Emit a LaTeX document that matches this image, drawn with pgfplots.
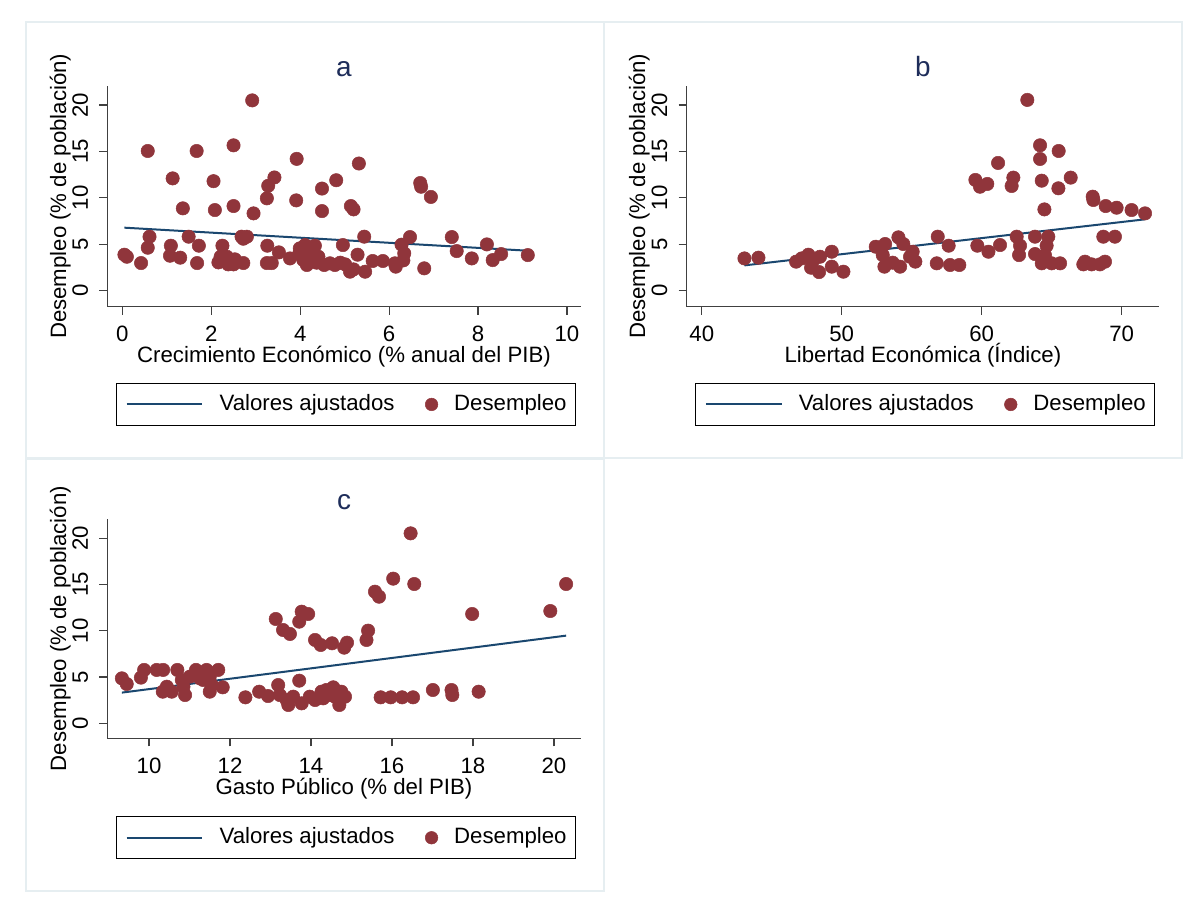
\documentclass[border=0pt]{standalone}
\usepackage{fontspec}
\setmainfont{Liberation Sans}
\usepackage{pgfplots}
\pgfplotsset{compat=1.18}

\definecolor{stnavy}{RGB}{26,71,111}
\definecolor{stmaroon}{RGB}{144,53,59}
\definecolor{sttitle}{RGB}{30,45,90}
\definecolor{stbox}{RGB}{230,238,241}

\pgfplotsset{
  stata/.style={
    scale only axis,
    anchor=south west,
    axis x line*=bottom, axis y line*=left,
    axis line style={-, line width=1.2bp, draw=black!75},
    tick align=outside, major tick length=8bp,
    tick style={line width=1.2bp, draw=black!75},
    font=\fontsize{22.3}{26}\selectfont,
    /pgf/number format/assume math mode=true,
    xticklabel style={anchor=base, yshift=-27bp},
    yticklabel style={xshift=-11.3bp, rotate=90, anchor=base},
    every axis x label/.style={at={(axis description cs:0.5,0)}, yshift=-56.3bp, anchor=base},
    every axis y label/.style={at={(axis description cs:0,0.5)}, xshift=-41.3bp, rotate=90, anchor=base},
    every axis title/.style={at={(axis description cs:0.5,1)}, yshift=9.3bp, anchor=base,
      font=\fontsize{28}{32}\selectfont, text=sttitle},
    ylabel={Desempleo (\% de población)},
    ytick={0,5,10,15,20},
    legend columns=2,
    legend cell align=left,
    legend style={anchor=north west, draw=black, line width=1.2bp,
      inner xsep=9bp, inner ysep=10.8bp, font=\fontsize{22.3}{26}\selectfont,
      nodes={inner sep=0pt, text height=16bp, text depth=4.7bp},
      /tikz/every odd column/.append style={column sep=16.3bp},
      /tikz/every even column/.append style={column sep=30.7bp}},
  },
  fitline/.style={stnavy, line width=2bp, no marks,
    legend image code/.code={\draw[##1] (0bp,0bp) -- (75.7bp,0bp);}},
  dots/.style={only marks, mark=*, mark size=6.7bp, stmaroon,
    mark options={fill=stmaroon, draw=stmaroon, line width=0.5bp},
    legend image code/.code={\draw[##1, mark size=6.3bp] plot coordinates {(6.3bp,0bp)};}},
}

\begin{document}
\begin{tikzpicture}
\useasboundingbox (0,0) rectangle (1199bp,907bp);
\fill[white] (0,0) rectangle (1199bp,907bp);
\draw[stbox, line width=2bp] (25.5bp,885bp) rectangle (603.5bp,449.3bp);
\draw[stbox, line width=2bp] (603.5bp,885bp) rectangle (1181.7bp,449.3bp);
\draw[stbox, line width=2bp] (25.5bp,447.5bp) rectangle (603.5bp,16bp);

% panel a
\begin{axis}[stata,
  at={(107.3bp,600.3bp)}, width=473.4bp, height=220.7bp,
  xmin=-0.34, xmax=10.31, ymin=-1.72, ymax=22.05,
  xtick={0,2,4,6,8,10},
  title={a},
  xlabel={Crecimiento Económico (\% anual del PIB)},
  legend style={at={(axis description cs:0.01838,-0.3444)}},
]
\addplot[fitline] coordinates {(0.045,6.79) (9.12,4.31)};
\addlegendentry{Valores ajustados}
\addplot[dots] coordinates {
(2.92,20.5)(0.57,15.05)(1.67,15.05)(2.50,15.66)(3.92,14.2)(5.32,13.7)
(1.13,12.1)(2.05,11.8)(3.42,12.2)(3.28,11.3)(4.49,11.0)(4.81,11.9)
(6.70,11.6)(6.72,11.2)(6.94,10.1)(3.25,9.95)(3.91,9.73)(1.36,8.87)
(2.08,8.69)(2.50,9.12)(2.95,8.33)(4.49,8.58)(5.14,9.12)(5.20,8.76)
(0.61,5.82)(0.57,4.63)(0.045,3.88)(0.10,3.66)(0.42,2.98)(1.09,4.85)
(1.07,3.77)(1.30,3.56)(1.49,5.82)(1.72,4.85)(1.68,2.98)(2.16,3.05)
(2.25,4.85)(2.21,3.66)(2.35,3.66)(2.38,2.84)(2.50,2.84)(2.53,3.38)
(2.72,2.98)(2.68,5.82)(2.80,5.82)(3.26,4.85)(3.25,2.98)(3.36,2.98)
(3.52,4.13)(3.77,3.48)(3.98,4.02)(4.11,4.92)(4.33,4.85)(4.07,3.30)
(4.15,2.77)(4.22,3.84)(4.41,3.66)(4.37,3.02)(4.54,2.77)(4.67,2.95)
(4.78,2.77)(4.90,3.02)(5.01,2.84)(4.96,4.92)(5.12,2.05)(5.20,2.30)
(5.29,3.88)(5.44,5.82)(5.46,2.05)(5.63,3.20)(5.86,3.20)(6.13,2.95)
(6.15,2.59)(6.28,4.96)(6.34,4.02)(6.32,3.27)(6.47,5.78)(6.79,2.41)
(7.41,5.78)(7.52,4.27)(7.86,3.48)(8.20,4.99)(8.33,3.30)(8.52,3.95)
(9.12,3.84)(3.99,4.56)(4.05,3.70)(4.25,3.20)(2.72,5.60)
};
\addlegendentry{Desempleo}
\end{axis}

% panel b
\begin{axis}[stata,
  at={(686.5bp,600.3bp)}, width=472.8bp, height=220.7bp,
  xmin=38.91, xmax=72.69, ymin=-1.72, ymax=22.05,
  xtick={40,50,60,70},
  title={b},
  xlabel={Libertad Económica (Índice)},
  legend style={at={(axis description cs:0.01840,-0.3444)}},
]
\addplot[fitline] coordinates {(43.05,2.73) (71.67,7.69)};
\addlegendentry{Valores ajustados}
\addplot[dots] coordinates {
(63.26,20.55)(64.17,15.66)(65.50,15.05)(64.17,14.19)(61.17,13.76)
(59.55,11.93)(59.88,11.20)(60.40,11.50)(62.26,12.18)(62.14,11.28)
(64.29,11.85)(65.48,11.03)(66.36,12.18)(64.48,8.76)(67.93,10.13)
(67.98,9.77)(68.86,9.12)(69.64,8.94)(70.71,8.69)(71.67,8.33)
(43.05,3.48)(44.05,3.56)(46.74,3.13)(47.14,3.48)(47.62,3.88)
(47.98,3.30)(47.81,2.48)(48.38,2.01)(48.45,3.66)(49.29,4.20)
(49.29,2.59)(50.12,2.05)(52.43,4.74)(53.10,5.03)(52.93,3.84)
(53.05,2.59)(53.64,3.02)(54.17,2.59)(54.05,5.75)(54.40,5.03)
(55.07,4.20)(54.88,3.66)(55.26,3.13)(56.86,5.82)(57.64,4.85)
(56.79,2.95)(57.74,2.77)(58.40,2.77)(59.69,4.85)(60.48,4.20)
(61.31,4.92)(62.50,5.82)(62.74,4.85)(62.67,3.84)(63.81,5.82)
(63.81,3.95)(64.76,5.82)(64.64,4.85)(64.52,3.84)(64.29,2.95)
(65.00,2.95)(65.60,2.95)(67.38,3.13)(67.26,2.84)(67.86,2.84)
(68.81,3.13)(68.69,5.82)(69.52,5.82)(68.45,2.84)
};
\addlegendentry{Desempleo}
\end{axis}

% panel c
\begin{axis}[stata,
  at={(107.3bp,168.7bp)}, width=473.4bp, height=219.3bp,
  xmin=8.97, xmax=20.66, ymin=-1.62, ymax=22.09,
  xtick={10,12,14,16,18,20},
  title={c},
  xlabel={Gasto Público (\% del PIB)},
  legend style={at={(axis description cs:0.01838,-0.3543)}},
]
\addplot[fitline] coordinates {(9.33,3.32) (20.30,9.48)};
\addlegendentry{Valores ajustados}
\addplot[dots] coordinates {
(16.46,20.54)(16.03,15.64)(16.55,15.06)(15.58,14.23)(15.68,13.69)
(17.98,11.82)(19.91,12.14)(20.30,15.06)(13.13,11.28)(13.77,12.07)
(13.93,11.82)(13.71,10.99)(13.31,10.09)(13.48,9.66)(14.10,9.01)
(14.24,8.47)(14.52,8.65)(14.82,8.18)(14.89,8.72)(15.41,10.02)
(15.37,9.01)
(9.33,4.86)(9.45,4.25)(9.80,4.94)(9.88,5.77)(10.19,5.77)(10.35,5.77)
(10.34,3.42)(10.44,3.96)(10.56,3.42)(10.70,5.77)(10.81,4.68)(10.89,3.06)
(10.85,3.96)(11.16,5.77)(11.26,4.86)(11.42,5.77)(11.50,5.05)(11.50,3.42)
(11.55,4.14)(11.71,5.77)(11.82,3.89)(11.01,5.05)(11.34,4.68)
(12.38,2.81)(12.72,3.42)(12.94,2.95)(13.19,4.14)(13.23,3.06)(13.44,1.98)
(13.40,2.52)(13.56,2.88)(13.71,4.61)(13.77,2.16)(13.97,2.88)(14.10,2.52)
(14.26,3.42)(14.30,2.70)(14.38,3.60)(14.55,3.89)(14.59,2.88)(14.70,1.98)
(14.75,3.42)(14.84,2.88)(14.47,3.06)
(15.72,2.81)(15.97,2.81)(16.25,2.81)(16.52,2.81)(17.01,3.60)(17.47,3.60)
(17.49,3.06)(18.14,3.42)
};
\addlegendentry{Desempleo}
\end{axis}
\end{tikzpicture}
\end{document}
